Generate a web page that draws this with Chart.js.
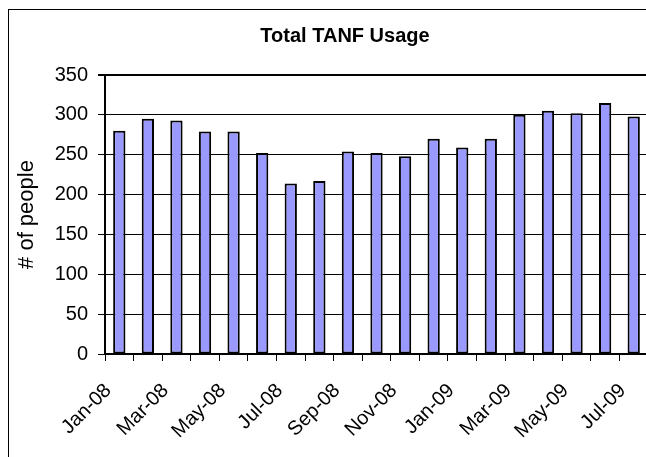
<!DOCTYPE html>
<html>
<head>
<meta charset="utf-8">
<script src="https://cdn.jsdelivr.net/npm/chart.js@4"></script>
<style>
  html, body { margin: 0; padding: 0; background: #fff; overflow: hidden; }
  #wrap { width: 690px; height: 457px; }
</style>
</head>
<body>
<div id="wrap"><canvas id="c" width="690" height="457"></canvas></div>
<script>
const categories = ['Jan-08','Feb-08','Mar-08','Apr-08','May-08','Jun-08','Jul-08','Aug-08','Sep-08','Oct-08','Nov-08','Dec-08','Jan-09','Feb-09','Mar-09','Apr-09','May-09','Jun-09','Jul-09'];
const usage = [280, 295, 293, 279, 279, 252, 214, 217, 254, 252, 248, 270, 259, 270, 300, 305, 302, 315, 298];
const yTicks = [0, 50, 100, 150, 200, 250, 300, 350];
const chartTitle = 'Total TANF Usage';
const yTitle = '# of people';

const FONT = 'Liberation Sans, Arial, sans-serif';

const outerBorder = {
  id: 'outerBorder',
  beforeDraw(chart) {
    const ctx = chart.ctx;
    ctx.save();
    ctx.fillStyle = '#fff';
    ctx.fillRect(0, 0, chart.width, chart.height);
    ctx.strokeStyle = '#000';
    ctx.lineWidth = 1;
    ctx.strokeRect(8.5, 9.5, 673, 600);
    ctx.restore();
  }
};

new Chart(document.getElementById('c'), {
  type: 'bar',
  data: {
    labels: categories,
    datasets: [{
      label: 'TANF',
      data: usage,
      backgroundColor: '#9999FF',
      borderColor: '#000000',
      borderWidth: 2,
      borderSkipped: false,
      categoryPercentage: 1.0,
      barPercentage: 0.43
    }]
  },
  options: {
    responsive: false,
    animation: false,
    devicePixelRatio: 1,
    layout: { padding: { left: 42, right: 42, top: 0, bottom: 0 } },
    plugins: {
      legend: { display: false },
      tooltip: { enabled: false },
      title: {
        display: true,
        text: chartTitle,
        color: '#000',
        font: { family: FONT, size: 20, weight: 'bold' },
        padding: { top: 24, bottom: 27 }
      }
    },
    scales: {
      x: {
        offset: true,
        afterFit(scale) { scale.height = 103; },
        grid: {
          display: true,
          offset: true,
          drawOnChartArea: false,
          drawTicks: true,
          tickLength: 7,
          color: '#000',
          lineWidth: 1
        },
        border: { display: true, color: '#000', width: 2 },
        ticks: {
          autoSkip: false,
          maxRotation: 45,
          minRotation: 45,
          padding: 18,
          labelOffset: -11,
          color: '#000',
          font: { family: FONT, size: 20 },
          callback: function(value, index) { return index % 2 === 0 ? categories[index] : ''; }
        }
      },
      y: {
        min: yTicks[0],
        max: yTicks[yTicks.length - 1],
        afterFit(scale) { scale.width = 63; },
        afterBuildTicks(scale) { scale.ticks = yTicks.map(v => ({ value: v })); },
        grid: {
          color: '#000',
          lineWidth: (ctx) => (ctx.tick && ctx.tick.value === 350 ? 2 : 1),
          drawTicks: true,
          tickLength: 7
        },
        border: { display: true, color: '#000', width: 2 },
        ticks: {
          stepSize: 50,
          padding: 10,
          color: '#000',
          font: { family: FONT, size: 20 }
        },
        title: {
          display: true,
          text: yTitle,
          color: '#000',
          font: { family: FONT, size: 22 },
          padding: { top: -28, bottom: 0 }
        }
      }
    }
  },
  plugins: [outerBorder]
});
</script>
</body>
</html>
